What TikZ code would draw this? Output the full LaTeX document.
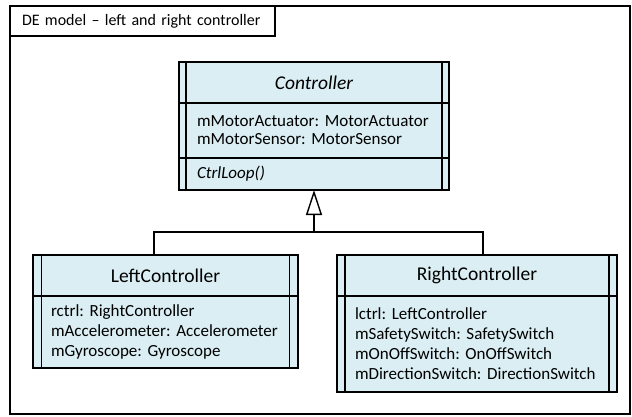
\documentclass[tikz,border=0pt]{standalone}
\usepackage{fontspec}
\setmainfont{Carlito}
\usepackage{tikz}
\usetikzlibrary{positioning,arrows.meta}
\definecolor{clsfill}{RGB}{218,238,243}
\newcommand{\clsfont}{\frenchspacing\fontsize{17}{20}\selectfont}
\newcommand{\namefont}{\fontsize{19.5}{22}\selectfont}
\newcommand{\titlefont}{\fontsize{16}{19}\selectfont}
\tikzset{
  clspart/.style={draw=black, line width=1.6pt, fill=clsfill, outer sep=0pt,
                  inner xsep=18pt, inner ysep=2pt, align=left, font=\clsfont},
  clsname/.style={clspart, align=center, minimum height=41pt, font=\namefont},
  clsbar/.style={line width=1.6pt},
  genline/.style={line width=1.4pt},
  framebox/.style={draw=black, line width=1.3pt}
}

\begin{document}
\begin{tikzpicture}[x=1pt, y=-1pt]
  \useasboundingbox (0,0) rectangle (632,416);

  % Frame and its title
  \draw[framebox] (10,6) rectangle (630,414);
  \node[framebox, anchor=north west, text width=241pt, inner xsep=12pt,
        minimum height=30pt, align=left, outer sep=0pt, font=\titlefont] (title) at (10,6)
        {DE model -- left and right controller};

  % Controller
  \node[clsname, text width=234pt, anchor=north west] (cname) at (179,62)
        {\itshape Controller};
  \node[clspart, text width=234pt, minimum height=55pt, below=0pt of cname] (cattr)
        {mMotorActuator: MotorActuator\\[-2pt]mMotorSensor: MotorSensor};
  \node[clspart, text width=234pt, minimum height=32pt, below=0pt of cattr] (cops)
        {\itshape CtrlLoop()};

  % LeftController
  \node[clsname, text width=229pt, anchor=north west] (lname) at (33,255)
        {LeftController};
  \node[clspart, text width=229pt, minimum height=72pt, below=0pt of lname] (lattr)
        {rctrl: RightController\\mAccelerometer: Accelerometer\\mGyroscope: Gyroscope};

  % RightController
  \node[clsname, text width=244pt, anchor=north west] (rname) at (337,255)
        {RightController};
  \node[clspart, text width=244pt, minimum height=96pt, below=0pt of rname] (rattr)
        {lctrl: LeftController\\mSafetySwitch: SafetySwitch\\mOnOffSwitch: OnOffSwitch\\mDirectionSwitch: DirectionSwitch};

  % side bars of the class boxes
  \foreach \c/\d/\o in {cname/cops/7, lname/lattr/8.5, rname/rattr/8}{
    \draw[clsbar] ([xshift=\o pt]\c.north west) -- ([xshift=\o pt]\d.south west);
    \draw[clsbar] ([xshift=-\o pt]\c.north east) -- ([xshift=-\o pt]\d.south east);
  }

  % Generalization
  \coordinate (jn) at (314,232);
  \draw[genline, -{Triangle[open, length=25pt, width=16pt]}] (jn) -- (cops.south);
  \draw[genline] ([xshift=-11.5pt]lname.north) |- (jn);
  \draw[genline] ([xshift=6pt]rname.north) |- (jn);
\end{tikzpicture}
\end{document}
